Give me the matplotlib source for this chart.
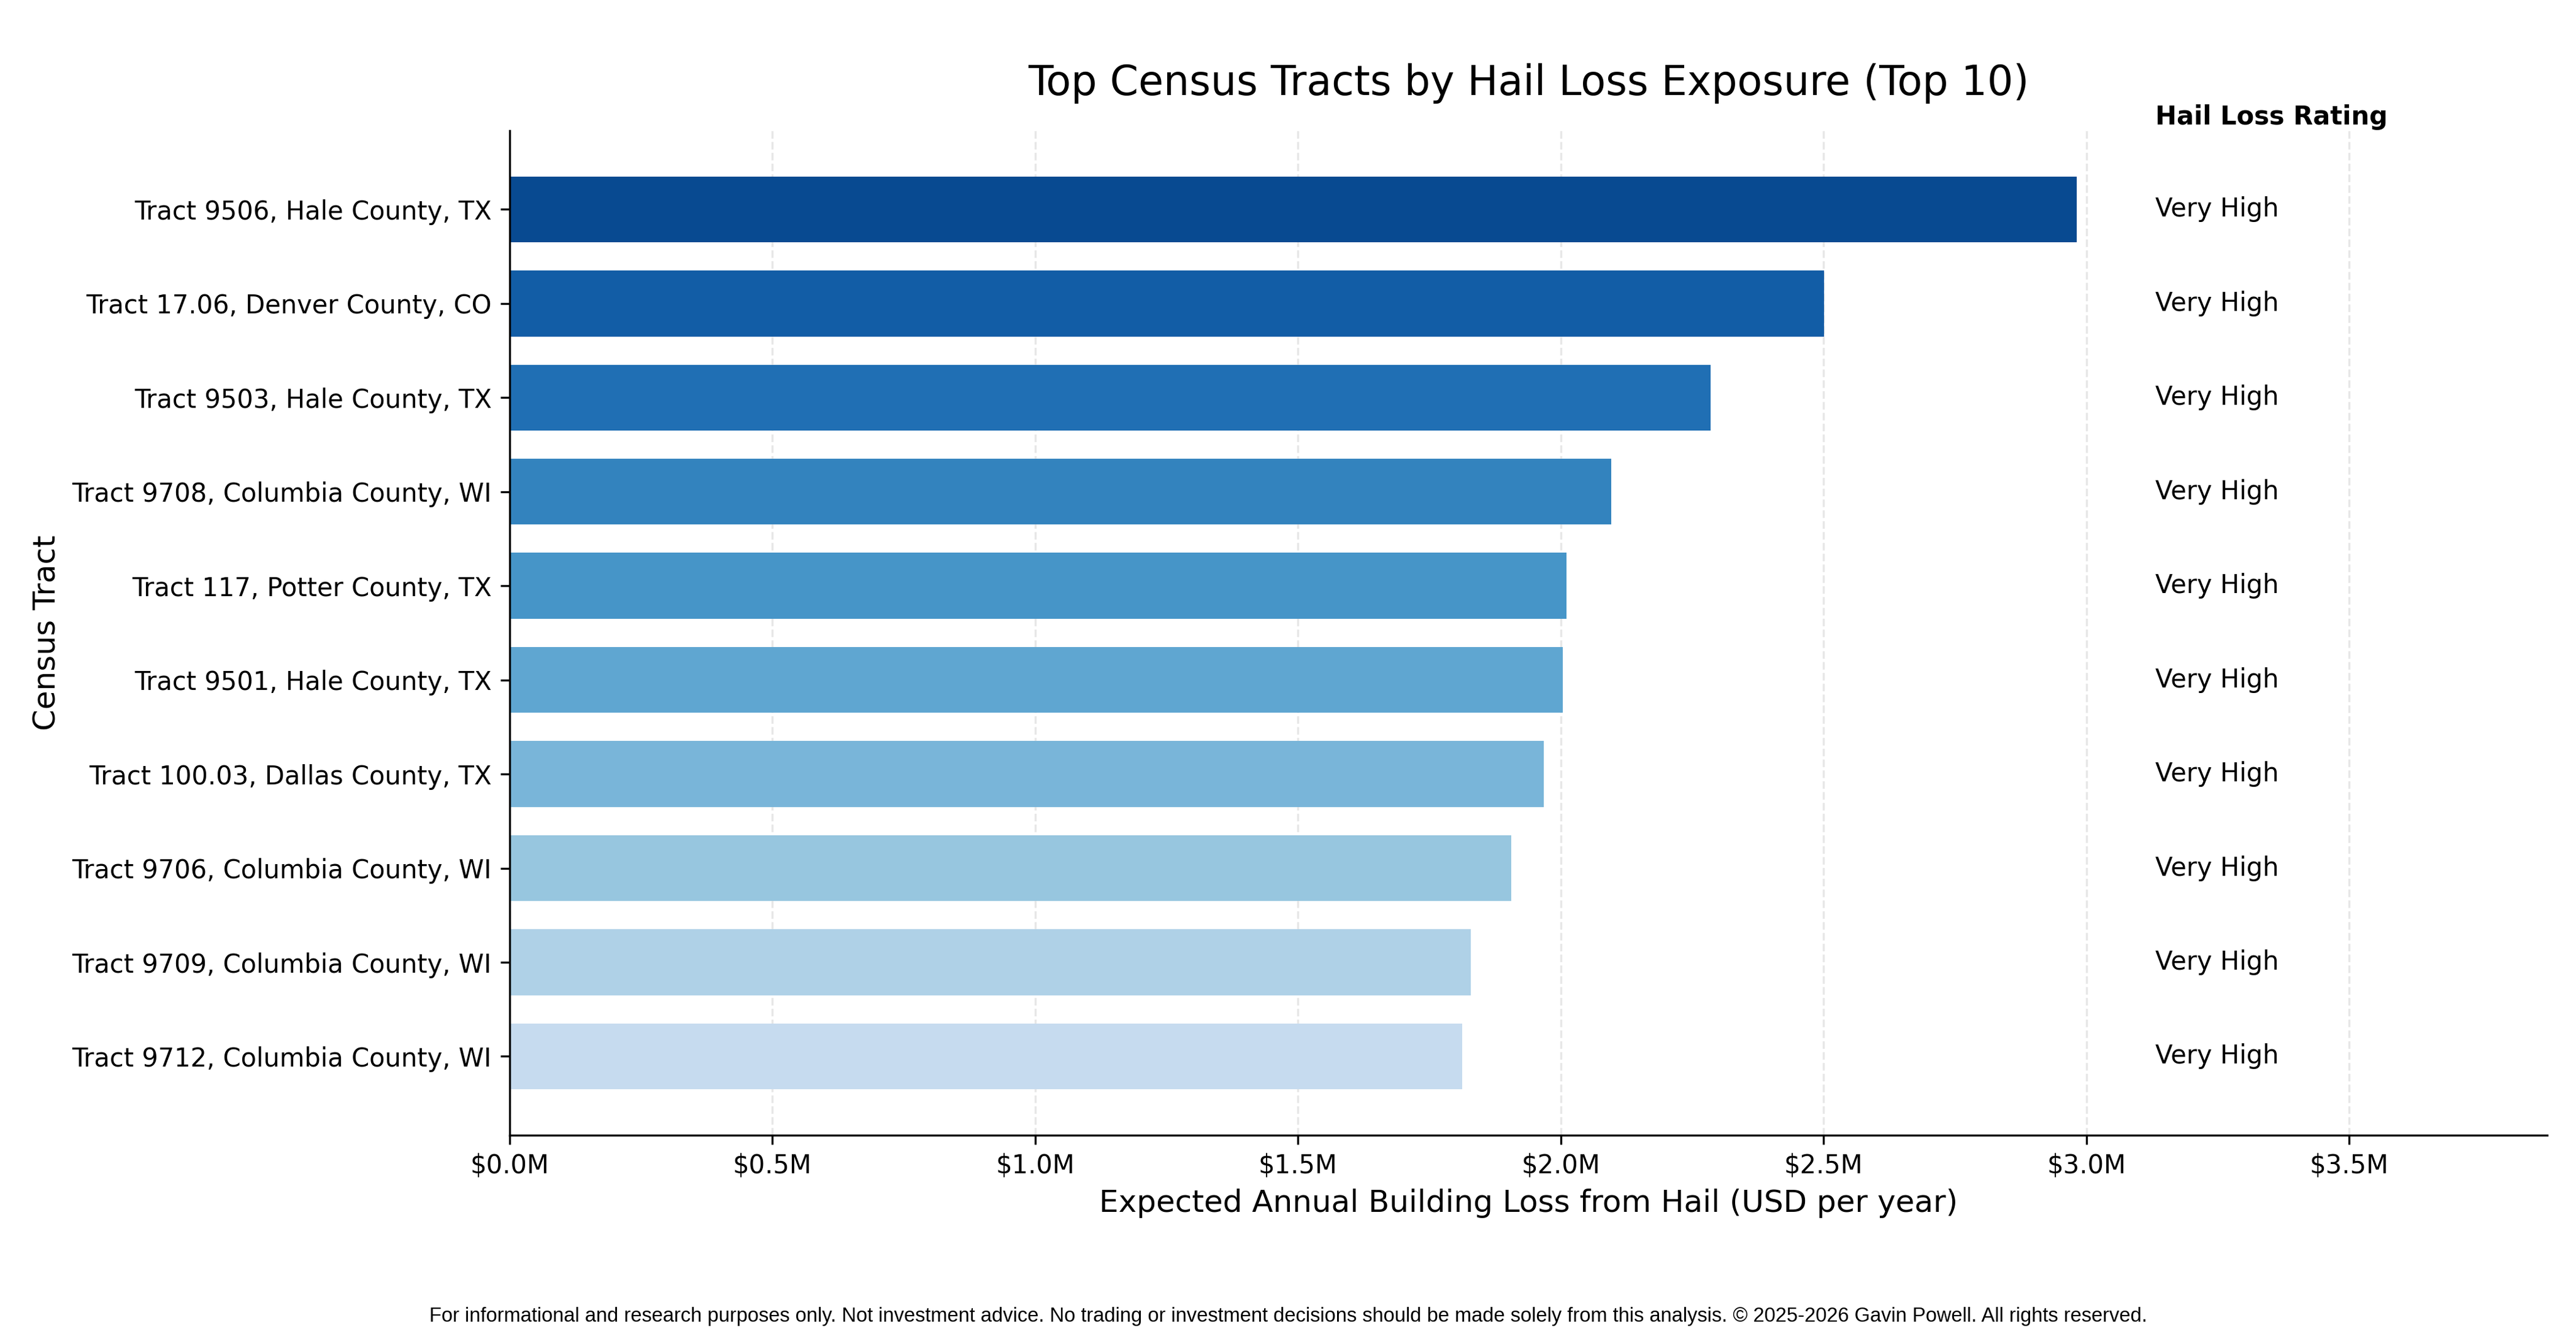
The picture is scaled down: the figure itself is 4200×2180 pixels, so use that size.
import matplotlib
matplotlib.use("Agg")
import matplotlib.pyplot as plt
import numpy as np
from matplotlib.ticker import FuncFormatter

tracts = [
    "Tract 9506, Hale County, TX",
    "Tract 17.06, Denver County, CO",
    "Tract 9503, Hale County, TX",
    "Tract 9708, Columbia County, WI",
    "Tract 117, Potter County, TX",
    "Tract 9501, Hale County, TX",
    "Tract 100.03, Dallas County, TX",
    "Tract 9706, Columbia County, WI",
    "Tract 9709, Columbia County, WI",
    "Tract 9712, Columbia County, WI",
]
loss_usd = [2982000, 2501000, 2285000, 2096000, 2011000, 2004000, 1968000, 1906000, 1829000, 1813000]
ratings = ["Very High"] * 10

title = "Top Census Tracts by Hail Loss Exposure (Top 10)"
xlabel = "Expected Annual Building Loss from Hail (USD per year)"
ylabel = "Census Tract"
rating_header = "Hail Loss Rating"
footer = ("For informational and research purposes only. Not investment advice. No trading or investment "
          "decisions should be made solely from this analysis. \u00a9 2025-2026 Gavin Powell. All rights reserved.")

fig = plt.figure(figsize=(14, 7.2667), dpi=300)
ax = fig.add_axes([0.1978, 0.1511, 0.9888 - 0.1978, 0.9022 - 0.1511])

y = np.arange(len(tracts))
colors = plt.cm.Blues(np.linspace(0.9, 0.25, len(tracts)))
ax.barh(y, loss_usd, height=0.7, color=colors)
ax.set_yticks(y)
ax.set_yticklabels(tracts, fontsize=10)
ax.invert_yaxis()

vmax = max(loss_usd)
ax.set_xlim(0, vmax * 1.3)
ax.xaxis.set_major_locator(matplotlib.ticker.MultipleLocator(500000))
ax.xaxis.set_major_formatter(FuncFormatter(lambda v, p: f"${v/1e6:.1f}M"))
ax.tick_params(axis="x", labelsize=10)

ax.set_axisbelow(True)
ax.grid(axis="x", linestyle="--", color="#b0b0b0", alpha=0.3, linewidth=0.8)
ax.spines["top"].set_visible(False)
ax.spines["right"].set_visible(False)

tx = vmax * 1.05
for yi, r in zip(y, ratings):
    ax.text(tx, yi, r, va="center", ha="left", fontsize=10)
ax.text(tx, -0.98, rating_header, va="center", ha="left", fontsize=10,
        fontweight="bold", clip_on=False)

ax.set_title(title, fontsize=16, pad=14)
ax.set_xlabel(xlabel, fontsize=12)
ax.set_ylabel(ylabel, fontsize=12)

fig.text(0.5, 0.0155, footer, ha="center", va="center", fontsize=7.85,
         family=["Liberation Sans", "DejaVu Sans"])

fig.savefig("out.png", dpi=300)
